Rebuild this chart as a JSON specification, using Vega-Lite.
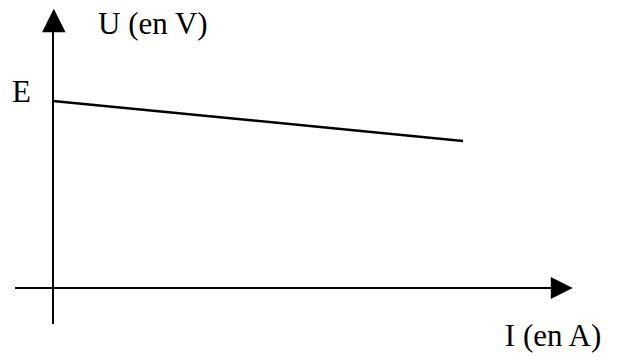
{
  "$schema": "https://vega.github.io/schema/vega-lite/v6.json",
  "width": 617,
  "height": 360,
  "padding": 0,
  "autosize": {"type": "fit", "contains": "padding"},
  "background": "white",
  "config": {"view": {"stroke": null}},
  "datasets": {
    "curve": [{"I": 0, "U": 10}, {"I": 10, "U": 7.86}],
    "axes": [
      {"I": -0.927, "I2": 12.2, "U": 0, "U2": 0},
      {"I": 0, "I2": 0, "U": -1.925, "U2": 13.7}
    ],
    "arrowRight": [{"I": 12.41, "U": 0}],
    "arrowUp": [{"I": 0.02, "U": 14.3}],
    "labels": [
      {"I": 1.098, "U": 13.58, "text": "U (en V)"},
      {"I": -1.0, "U": 9.947, "text": "E"},
      {"I": 11.02, "U": -3.1, "text": "I (en A)"}
    ]
  },
  "layer": [
    {
      "data": {"name": "axes"},
      "mark": {"type": "rule", "color": "black", "strokeWidth": 2},
      "encoding": {
        "x": {"field": "I", "type": "quantitative", "scale": {"domain": [-1.2927, 13.756], "nice": false, "zero": false}, "axis": null},
        "x2": {"field": "I2"},
        "y": {"field": "U", "type": "quantitative", "scale": {"domain": [-3.85, 15.401], "nice": false, "zero": false}, "axis": null},
        "y2": {"field": "U2"}
      }
    },
    {
      "data": {"name": "curve"},
      "mark": {"type": "line", "color": "black", "strokeWidth": 2.5},
      "encoding": {
        "x": {"field": "I", "type": "quantitative"},
        "y": {"field": "U", "type": "quantitative"}
      }
    },
    {
      "data": {"name": "arrowRight"},
      "mark": {"type": "point", "filled": true, "color": "black", "opacity": 1, "size": 484, "shape": "M-1,-1L1,0L-1,1Z"},
      "encoding": {
        "x": {"field": "I", "type": "quantitative"},
        "y": {"field": "U", "type": "quantitative"}
      }
    },
    {
      "data": {"name": "arrowUp"},
      "mark": {"type": "point", "filled": true, "color": "black", "opacity": 1, "size": 552, "shape": "M-1,1L0,-1L1,1Z"},
      "encoding": {
        "x": {"field": "I", "type": "quantitative"},
        "y": {"field": "U", "type": "quantitative"}
      }
    },
    {
      "data": {"name": "labels"},
      "mark": {"type": "text", "align": "left", "baseline": "alphabetic", "font": "Liberation Serif", "fontSize": 31, "color": "black"},
      "encoding": {
        "x": {"field": "I", "type": "quantitative"},
        "y": {"field": "U", "type": "quantitative"},
        "text": {"field": "text"}
      }
    }
  ]
}
